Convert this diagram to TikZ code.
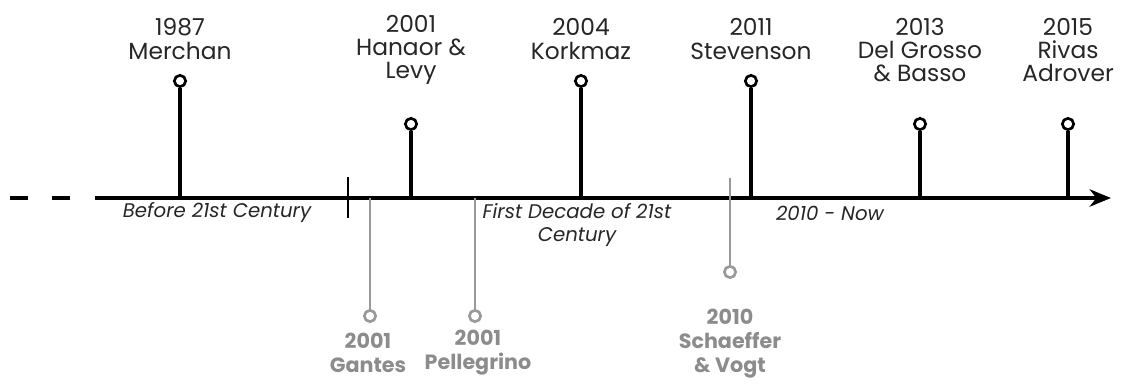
\documentclass[tikz,border=0pt]{standalone}
\usepackage{fontspec}
\setmainfont{Poppins}
\usetikzlibrary{arrows.meta}

\begin{document}
\begin{tikzpicture}[x=0.75pt, y=-0.75pt,
		pin/.style={draw, circle, line width=2pt, inner sep=0pt, minimum size=8.5pt, fill=white},
		greypin/.style={pin, draw=black!40},
		event/.style={align=center, font=\fontsize{17.5}{17.5}\selectfont, inner sep=0pt, text=black!85},
		greyevent/.style={event, text=black!45, font=\fontsize{15.5}{18}\selectfont\bfseries},
		era/.style={align=center, font=\fontsize{14.8}{17.5}\selectfont\itshape, inner sep=0pt, text=black!85}]
		\useasboundingbox (0,0) rectangle (1122,392);
		
		% axis
		\coordinate (start) at (95,198);
		\coordinate (end) at (1111,198);
		\draw[line width=2.4pt, -{Stealth[length=16pt, width=13pt, inset=5pt]}] (start) -- (end);
		\foreach \x in {10, 52}
			\draw[line width=2.4pt] (\x,198) -- ++(18,0);
		
		% eras
		\coordinate (t1a) at (348,177);
		\coordinate (t1b) at (348,218);
		\draw[line width=2pt] (t1a) -- (t1b);
		\node[era] (before) at (217,213) {Before 21st Century};
		\node[era] (first) at (577,225) {First Decade of 21st\\Century};
		\node[era] (now) at (830,213) {2010 - Now};
		
		% events above
		\node[pin] (merchan) at (180,81) {};
		\node[pin] (hanaor) at (411,124) {};
		\node[pin] (korkmaz) at (581,81) {};
		\node[pin] (stevenson) at (751,81) {};
		\node[pin] (grosso) at (920,124) {};
		\node[pin] (rivas) at (1068,124) {};
		\foreach \n/\x in {merchan/180, hanaor/411, korkmaz/581, stevenson/751, grosso/920, rivas/1068}
			{\coordinate (\n-base) at (\x,198);
			\draw[line width=2.4pt] (\n) -- (\n-base);}
		\node[event] (merchan-txt) at (180,39) {1987\\Merchan};
		\node[event] (hanaor-txt) at (411,50) {2001\\Hanaor \&\\Levy};
		\node[event] (korkmaz-txt) at (581,39) {2004\\Korkmaz};
		\node[event] (stevenson-txt) at (751,39) {2011\\Stevenson};
		\node[event] (grosso-txt) at (920,50) {2013\\Del Grosso\\\& Basso};
		\node[event] (rivas-txt) at (1068,50) {2015\\Rivas\\Adrover};
		
		% events below
		\coordinate (gantes-base) at (370,198);
		\coordinate (pellegrino-base) at (475,198);
		\coordinate (schaeffer-base) at (730,178);
		\draw[line width=2pt, black!40] (gantes-base) -- (370,311);
		\draw[line width=2pt, black!40] (pellegrino-base) -- (475,311);
		\draw[line width=2pt, black!40] (schaeffer-base) -- (730,267);
		\node[greypin] (gantes) at (370,316) {};
		\node[greypin] (pellegrino) at (475,316) {};
		\node[greypin] (schaeffer) at (730,272) {};
		\node[greyevent] (gantes-txt) at (368,353) {2001\\Gantes};
		\node[greyevent] (pellegrino-txt) at (478,353) {2001\\Pellegrino};
		\node[greyevent] (schaeffer-txt) at (730,344) {2010\\Schaeffer\\\& Vogt};
	\end{tikzpicture}
\end{document}
